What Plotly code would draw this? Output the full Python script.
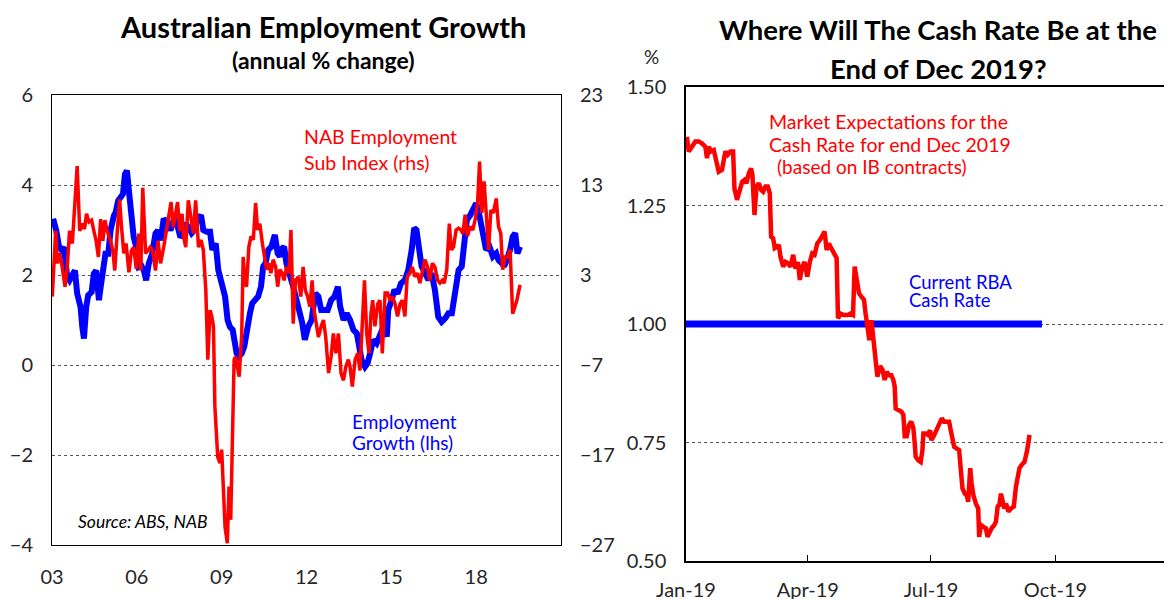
import plotly.graph_objects as go
import pandas as pd

# ---------------- Data: left panel ----------------
emp_year = [2003.04, 2003.15, 2003.25, 2003.34, 2003.42, 2003.54, 2003.62, 2003.72, 2003.81, 2003.89,
            2004.01, 2004.07, 2004.13, 2004.21, 2004.28, 2004.40, 2004.48, 2004.56, 2004.66, 2004.72,
            2004.80, 2004.89, 2004.99, 2005.07, 2005.19, 2005.25, 2005.34, 2005.42, 2005.51, 2005.58,
            2005.65, 2005.72, 2005.81, 2005.89, 2005.98, 2006.07, 2006.16, 2006.25, 2006.33, 2006.42,
            2006.54, 2006.66, 2006.75, 2006.84, 2006.95, 2007.07, 2007.19, 2007.31, 2007.42, 2007.54,
            2007.66, 2007.71, 2007.82, 2007.94, 2008.04, 2008.12, 2008.27, 2008.35, 2008.47, 2008.59,
            2008.67, 2008.79, 2008.88, 2009.00, 2009.12, 2009.21, 2009.29, 2009.39, 2009.47, 2009.53,
            2009.61, 2009.71, 2009.80, 2009.88, 2010.00, 2010.08, 2010.20, 2010.29, 2010.39, 2010.47,
            2010.55, 2010.65, 2010.76, 2010.88, 2010.98, 2011.06, 2011.14, 2011.21, 2011.29, 2011.41,
            2011.53, 2011.65, 2011.76, 2011.85, 2011.94, 2012.06, 2012.18, 2012.31, 2012.42, 2012.52,
            2012.64, 2012.75, 2012.87, 2012.99, 2013.11, 2013.19, 2013.31, 2013.42, 2013.54, 2013.66,
            2013.78, 2013.86, 2013.95, 2014.07, 2014.16, 2014.25, 2014.36, 2014.48, 2014.60, 2014.72,
            2014.84, 2014.89, 2015.01, 2015.11, 2015.22, 2015.34, 2015.48, 2015.60, 2015.72, 2015.81,
            2015.89, 2015.98, 2016.07, 2016.19, 2016.31, 2016.42, 2016.54, 2016.66, 2016.78, 2016.91,
            2017.02, 2017.14, 2017.26, 2017.38, 2017.49, 2017.58, 2017.67, 2017.79, 2017.91, 2018.00,
            2018.08, 2018.16, 2018.26, 2018.35, 2018.47, 2018.59, 2018.71, 2018.79, 2018.91, 2018.99,
            2019.08, 2019.20, 2019.29, 2019.38, 2019.46, 2019.55]
emp_growth = [3.25, 2.99, 2.62, 2.55, 2.62, 1.96, 1.88, 2.03, 2.10, 1.59,
              1.29, 0.85, 0.59, 1.29, 1.55, 1.62, 2.03, 2.10, 1.44, 1.73,
              2.18, 2.47, 2.47, 2.99, 3.32, 3.39, 3.65, 3.73, 3.80, 4.24,
              4.32, 3.87, 3.21, 2.84, 2.62, 2.18, 2.21, 2.10, 1.88, 2.25,
              2.47, 2.92, 2.99, 2.77, 3.25, 3.17, 2.99, 3.25, 3.14, 2.84,
              2.92, 3.15, 3.07, 2.93, 3.00, 3.22, 3.33, 3.00, 2.96, 2.96,
              2.56, 2.70, 2.11, 1.81, 1.52, 1.00, 0.85, 0.78, 0.48, 0.26,
              0.19, 0.26, 0.41, 0.78, 1.15, 1.37, 1.44, 1.52, 1.74, 2.19,
              2.26, 2.56, 2.63, 2.89, 2.48, 2.41, 2.59, 2.63, 2.26, 2.04,
              1.74, 1.44, 1.22, 0.93, 0.56, 0.85, 1.00, 1.59, 1.52, 1.22,
              1.22, 1.22, 1.44, 1.52, 1.74, 1.30, 1.00, 1.15, 1.00, 0.78,
              0.70, 0.41, 0.11, -0.04, 0.04, 0.26, 0.56, 0.48, 0.70, 0.85,
              0.63, 1.22, 1.44, 1.67, 1.59, 1.81, 1.89, 2.11, 2.56, 3.04,
              3.00, 2.56, 2.19, 2.04, 1.89, 2.04, 1.67, 1.07, 0.96, 1.04,
              1.15, 1.15, 1.67, 2.11, 2.19, 2.78, 3.22, 3.33, 3.52, 3.59,
              3.44, 3.15, 2.78, 2.56, 2.63, 2.41, 2.48, 2.33, 2.26, 2.19,
              2.33, 2.56, 2.85, 2.93, 2.48, 2.63]

nab_year = [2003.01, 2003.07, 2003.13, 2003.19, 2003.27, 2003.36, 2003.46, 2003.54, 2003.62, 2003.72,
            2003.81, 2003.89, 2003.98, 2004.07, 2004.15, 2004.22, 2004.31, 2004.40, 2004.48, 2004.56,
            2004.64, 2004.72, 2004.80, 2004.87, 2004.95, 2005.07, 2005.15, 2005.22, 2005.31, 2005.39,
            2005.46, 2005.54, 2005.62, 2005.72, 2005.81, 2005.89, 2005.98, 2006.07, 2006.14, 2006.21,
            2006.31, 2006.38, 2006.48, 2006.56, 2006.66, 2006.75, 2006.84, 2006.95, 2007.04, 2007.13,
            2007.21, 2007.29, 2007.36, 2007.44, 2007.52, 2007.60, 2007.65, 2007.73, 2007.82, 2007.92,
            2008.00, 2008.08, 2008.18, 2008.27, 2008.35, 2008.44, 2008.51, 2008.59, 2008.65, 2008.71,
            2008.76, 2008.86, 2008.94, 2009.00, 2009.06, 2009.12, 2009.20, 2009.26, 2009.32, 2009.38,
            2009.44, 2009.49, 2009.56, 2009.62, 2009.71, 2009.76, 2009.82, 2009.88, 2009.96, 2010.04,
            2010.12, 2010.20, 2010.27, 2010.35, 2010.44, 2010.51, 2010.59, 2010.67, 2010.74, 2010.82,
            2010.91, 2010.98, 2011.06, 2011.14, 2011.21, 2011.29, 2011.38, 2011.45, 2011.53, 2011.61,
            2011.71, 2011.80, 2011.88, 2011.96, 2012.04, 2012.12, 2012.20, 2012.25, 2012.33, 2012.42,
            2012.52, 2012.60, 2012.68, 2012.78, 2012.87, 2012.95, 2013.04, 2013.13, 2013.22, 2013.31,
            2013.39, 2013.48, 2013.54, 2013.62, 2013.72, 2013.81, 2013.89, 2013.98, 2014.05, 2014.13,
            2014.21, 2014.28, 2014.34, 2014.42, 2014.52, 2014.60, 2014.68, 2014.78, 2014.87, 2014.95,
            2015.04, 2015.13, 2015.22, 2015.31, 2015.39, 2015.48, 2015.56, 2015.66, 2015.74, 2015.84,
            2015.93, 2016.01, 2016.09, 2016.19, 2016.28, 2016.36, 2016.45, 2016.54, 2016.64, 2016.72,
            2016.80, 2016.87, 2016.96, 2017.05, 2017.12, 2017.20, 2017.29, 2017.38, 2017.46, 2017.53,
            2017.61, 2017.69, 2017.79, 2017.88, 2017.96, 2018.05, 2018.12, 2018.20, 2018.28, 2018.35,
            2018.44, 2018.52, 2018.61, 2018.71, 2018.79, 2018.87, 2018.94, 2019.02, 2019.11, 2019.20,
            2019.29, 2019.44, 2019.55]
nab_index = [0.6, 3.9, 7.9, 4.3, 5.4, 3.9, 1.7, 3.9, 7.9, 6.5,
             10.9, 15.1, 7.9, 8.7, 8.1, 9.8, 8.9, 9.1, 7.9, 6.8,
             5.0, 9.2, 6.8, 9.1, 7.9, 6.8, 5.7, 3.5, 7.9, 11.4,
             8.3, 5.4, 6.5, 3.3, 5.7, 6.1, 3.7, 7.6, 3.5, 12.7,
             5.4, 5.7, 6.1, 5.7, 3.5, 6.8, 4.3, 6.1, 7.9, 9.8,
             11.1, 8.3, 9.4, 11.1, 7.9, 9.8, 7.3, 6.1, 11.3, 9.5,
             7.6, 11.3, 6.1, 6.9, 5.8, 1.3, -6.4, -0.9, -1.6, -2.7,
             -11.6, -17.2, -17.9, -16.4, -21.3, -25.0, -26.8, -20.5, -24.2, -15.3,
             -6.4, -6.1, -7.2, -8.3, -3.5, 5.0, 2.4, 1.7, 6.1, 7.3,
             6.9, 11.0, 8.0, 8.7, 6.5, 5.0, 3.6, 4.3, 3.2, 4.7,
             3.9, 1.7, 3.6, 3.2, 2.4, 3.9, 3.2, 8.0, -2.4, 2.4,
             2.8, 0.6, 3.9, 1.3, 0.6, -0.5, 2.4, -0.5, -2.4, -3.9,
             -2.7, -2.0, -3.9, -7.9, -6.1, -3.5, -5.7, -3.5, -7.9, -8.7,
             -7.2, -6.4, -7.2, -9.4, -6.4, -5.7, -7.6, -2.4, 2.4, -3.5,
             -5.7, -1.3, 0.2, -2.7, -0.2, 0.2, -5.7, 1.0, 1.0, 0.2,
             0.6, -0.2, -1.6, -0.2, 0.2, -1.6, 2.8, 3.2, 3.9, 2.8,
             3.2, 2.1, 3.2, 4.7, 3.9, 2.4, 4.3, 3.9, 2.4, 2.1,
             2.4, 2.1, 3.6, 8.7, 5.8, 6.1, 8.0, 8.2, 8.0, 7.6,
             9.7, 7.3, 8.4, 8.0, 9.1, 11.0, 15.6, 9.9, 13.4, 10.6,
             5.8, 10.2, 9.9, 11.5, 8.4, 7.6, 3.6, 5.0, 5.0, 5.8,
             -1.3, 0.2, 1.9]

left_ticks = [2003, 2006, 2009, 2012, 2015, 2018]
left_ticktext = ["03", "06", "09", "12", "15", "18"]
lhs_ticks = [-4, -2, 0, 2, 4, 6]
rhs_ticks = [-27, -17, -7, 3, 13, 23]

# ---------------- Data: right panel ----------------
cash_day = [0.7, 2.0, 4.4, 6.9, 9.4, 11.8, 14.3, 15.5, 16.8, 18.5, 20.5, 22.5, 24.2, 26.6, 29.1, 30.8,
            32.8, 34.8, 35.8, 37.7, 39.7, 41.5, 43.2, 44.7, 46.4, 48.1, 49.1, 50.6, 52.1, 53.8, 55.5,
            57.0, 58.7, 60.4, 61.9, 62.9, 64.4, 65.6, 67.4, 68.6, 69.8, 71.8, 73.5, 75.3, 77.2, 79.2,
            80.9, 82.7, 84.1, 85.9, 87.6, 89.6, 91.5, 93.3, 95.0, 97.0, 98.9, 100.7, 102.4, 103.9,
            105.6, 107.3, 109.3, 111.3, 112.3, 114.2, 116.7, 119.2, 121.6, 123.4, 124.6, 126.1, 127.8,
            129.5, 131.5, 132.7, 134.0, 135.5, 137.0, 138.9, 140.1, 141.4, 143.3, 145.1, 146.8, 148.3,
            150.0, 151.7, 153.2, 154.2, 154.9, 157.4, 159.2, 160.6, 161.6, 163.1, 164.8, 166.5, 168.0,
            169.0, 169.7, 171.5, 173.4, 174.7, 175.4, 177.1, 178.9, 180.3, 181.3, 182.8, 184.5, 186.3,
            187.7, 189.0, 190.7, 192.7, 194.4, 195.6, 196.9, 198.1, 200.1, 201.8, 203.1, 204.3, 206.0,
            207.5, 208.5, 210.0, 211.0, 212.4, 214.2, 215.9, 216.6, 217.9, 219.9, 221.6, 222.8, 224.1,
            225.8, 227.8, 229.0, 230.3, 231.5, 232.7, 234.0, 235.2, 236.5, 238.2, 240.2, 242.2, 243.8,
            245.1, 246.4, 248.1, 250.1, 252.1, 253.8]
cash_expect = [1.395, 1.364, 1.374, 1.385, 1.385, 1.381, 1.374, 1.350, 1.374, 1.364, 1.367, 1.342, 1.321,
               1.325, 1.364, 1.357, 1.364, 1.364, 1.286, 1.262, 1.283, 1.300, 1.304, 1.297, 1.318, 1.328,
               1.314, 1.230, 1.290, 1.297, 1.283, 1.279, 1.290, 1.290, 1.276, 1.184, 1.181, 1.160, 1.163,
               1.167, 1.142, 1.121, 1.131, 1.128, 1.121, 1.146, 1.117, 1.131, 1.093, 1.121, 1.131, 1.100,
               1.131, 1.149, 1.146, 1.170, 1.177, 1.188, 1.195, 1.156, 1.170, 1.160, 1.149, 1.139, 1.012,
               1.022, 1.019, 1.019, 1.022, 1.019, 1.121, 1.093, 1.065, 1.058, 1.051, 1.022, 0.994, 0.966,
               1.008, 0.945, 0.917, 0.889, 0.911, 0.904, 0.882, 0.899, 0.892, 0.892, 0.882, 0.868, 0.822,
               0.819, 0.815, 0.808, 0.763, 0.763, 0.787, 0.794, 0.780, 0.748, 0.720, 0.713, 0.709, 0.734,
               0.769, 0.769, 0.766, 0.776, 0.755, 0.762, 0.773, 0.780, 0.794, 0.801, 0.794, 0.794, 0.794,
               0.776, 0.762, 0.741, 0.737, 0.734, 0.691, 0.653, 0.642, 0.638, 0.625, 0.696, 0.664, 0.638,
               0.621, 0.611, 0.551, 0.576, 0.572, 0.569, 0.551, 0.562, 0.569, 0.576, 0.583, 0.615, 0.618,
               0.642, 0.628, 0.611, 0.621, 0.604, 0.611, 0.615, 0.657, 0.678, 0.696, 0.703, 0.709, 0.734,
               0.766]
rba_dates = ["2019-01-01", "2019-09-21"]
rba_rate = [1.00, 1.00]
cash_ticks = ["2019-01-01", "2019-04-01", "2019-07-01", "2019-10-01"]
cash_ticktext = ["Jan-19", "Apr-19", "Jul-19", "Oct-19"]

cash_dates = pd.Timestamp("2019-01-01") + pd.to_timedelta(cash_day, unit="D")

# ---------------- Layout geometry ----------------
# The page body adds an 8px margin, so the figure is placed 8px right/down of the window corner.
W, H = 1172, 599
OFF = 8
def px(x):
    return (x - OFF) / W
def py(y):
    return 1 - (y - OFF) / H

L_dom_x = [px(52), px(561)]
L_dom_y = [py(545), py(95)]
R_dom_x = [px(686), 1.0]
R_dom_y = [py(561), py(87)]
zero_pos = L_dom_y[0] + (0 - (-4)) / 10 * (L_dom_y[1] - L_dom_y[0])

FONT = "Lato"
RED = "#FF0000"
BLUE = "#0000FF"
TXT = "#262626"

fig = go.Figure()
fig.add_trace(go.Scatter(x=emp_year, y=emp_growth, mode="lines", xaxis="x", yaxis="y",
                         line=dict(color=BLUE, width=6), showlegend=False, hoverinfo="skip"))
fig.add_trace(go.Scatter(x=nab_year, y=nab_index, mode="lines", xaxis="x", yaxis="y2",
                         line=dict(color=RED, width=3.5), showlegend=False, hoverinfo="skip"))
fig.add_trace(go.Scatter(x=pd.to_datetime(rba_dates), y=rba_rate, mode="lines", xaxis="x3", yaxis="y3",
                         line=dict(color=BLUE, width=7), showlegend=False, hoverinfo="skip"))
fig.add_trace(go.Scatter(x=cash_dates, y=cash_expect, mode="lines", xaxis="x3", yaxis="y3",
                         line=dict(color=RED, width=4.5), showlegend=False, hoverinfo="skip"))

tickfont = dict(family=FONT, size=20, color=TXT)
grid = dict(showgrid=True, gridcolor="#555555", gridwidth=1, griddash="dot")

fig.update_layout(
    width=W, height=H, margin=dict(l=0, r=0, t=0, b=0, autoexpand=False),
    paper_bgcolor="white", plot_bgcolor="white",
    font=dict(family=FONT, color=TXT),
    xaxis=dict(domain=L_dom_x, anchor="y", range=[2003, 2021], tickvals=left_ticks, ticktext=left_ticktext,
               ticks="", showgrid=False, zeroline=False, showline=True, linecolor="#000", linewidth=1,
               mirror=True, tickfont=tickfont, ticklabelstandoff=14, automargin=False),
    xaxis2=dict(overlaying="x", anchor="free", position=zero_pos, range=[2003, 2021],
                tickvals=list(range(2003, 2022, 3)), ticks="inside", ticklen=6, tickwidth=1.5,
                tickcolor="#555", showticklabels=False, showgrid=False, zeroline=False,
                showline=True, linecolor="#7f7f7f", linewidth=2, automargin=False),
    yaxis=dict(domain=L_dom_y, anchor="x", range=[-4, 6], tickvals=lhs_ticks, ticks="",
               zeroline=False, showline=True, linecolor="#000", linewidth=1,
               tickfont=tickfont, ticklabelstandoff=14, automargin=False, **grid),
    yaxis2=dict(overlaying="y", anchor="x", side="right", range=[-27, 23], tickvals=rhs_ticks,
                ticks="", showgrid=False, zeroline=False, showline=True, linecolor="#000", linewidth=1,
                tickfont=tickfont, ticklabelstandoff=14, automargin=False),
    xaxis3=dict(domain=R_dom_x, anchor="y3", type="date", range=["2019-01-01", "2020-01-01"],
                tickvals=pd.to_datetime(cash_ticks), ticktext=cash_ticktext, ticks="inside", ticklen=6,
                tickcolor="#000", showgrid=False, zeroline=False, showline=True, linecolor="#000",
                linewidth=1.5, mirror=True, tickfont=tickfont, ticklabelstandoff=10, automargin=False),
    yaxis3=dict(domain=R_dom_y, anchor="x3", range=[0.5, 1.5], dtick=0.25, tick0=0.5, tickformat=".2f",
                ticks="", zeroline=False, showline=True, linecolor="#000", linewidth=1.5,
                tickfont=tickfont, ticklabelstandoff=14, automargin=False, **grid),
)

def note(text, x, y, size, color=TXT, xanchor="left", bold=False, italic=False):
    t = text
    if bold:
        t = "<b>" + t + "</b>"
    if italic:
        t = "<i>" + t + "</i>"
    fig.add_annotation(text=t, xref="paper", yref="paper", x=px(x), y=py(y), xanchor=xanchor,
                       yanchor="middle", showarrow=False, font=dict(family=FONT, size=size, color=color))

note("Australian Employment Growth", 323, 27, 29, "#000", "center", bold=True)
note("(annual % change)", 323, 60, 23, "#000", "center", bold=True)
note("NAB Employment", 302, 136, 19.5, RED)
note("Sub Index (rhs)", 302, 162, 19.5, RED)
note("Employment", 350, 421, 19, BLUE)
note("Growth (lhs)", 350, 442, 19, BLUE)
note("Source: ABS, NAB", 76, 521, 17.5, "#000", italic=True)

note("Where Will The Cash Rate Be at the", 938, 30, 27.5, "#000", "center", bold=True)
note("End of Dec 2019?", 938, 68, 27.5, "#000", "center", bold=True)
note("%", 651, 56, 19, TXT, "center")
note("Market Expectations for the", 767, 121, 19.5, RED)
note("Cash Rate for end Dec 2019", 767, 145, 19.5, RED)
note("(based on IB contracts)", 775, 166, 19, RED)
note("Current RBA", 907, 282, 18.5, BLUE)
note("Cash Rate", 907, 300, 18.5, BLUE)

fig.write_html("out.html")
